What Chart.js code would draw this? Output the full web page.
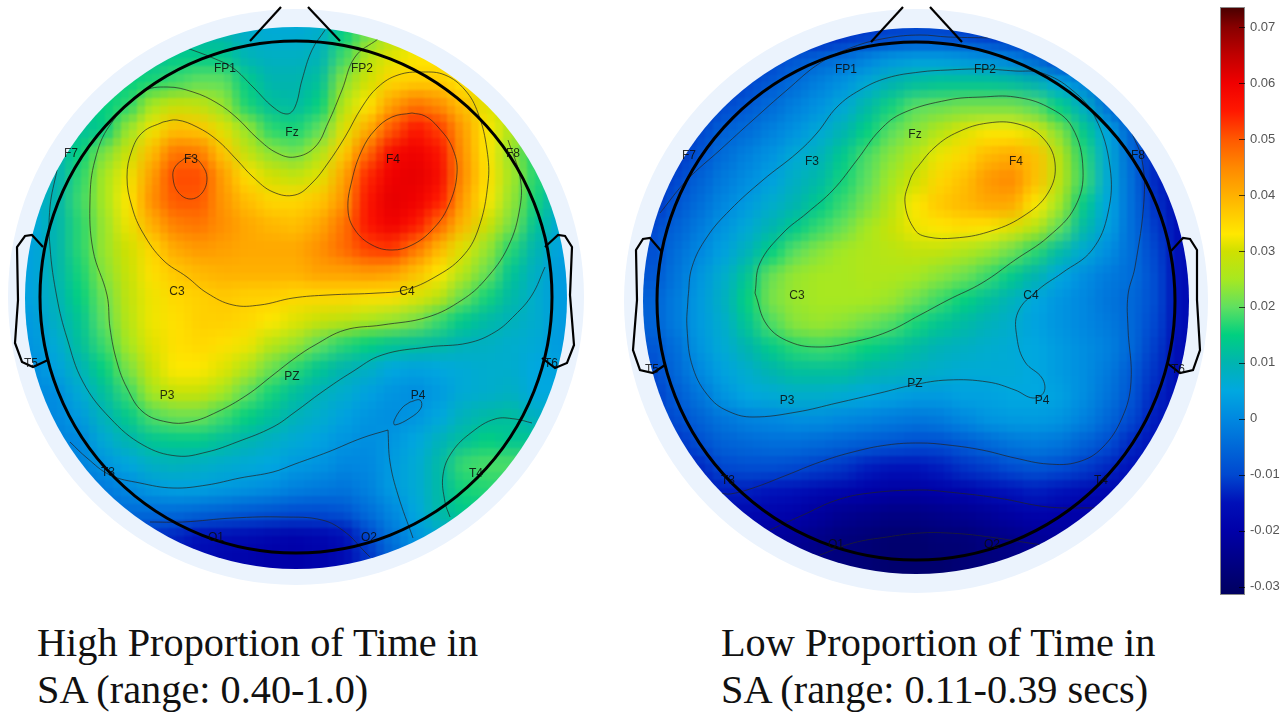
<!DOCTYPE html>
<html>
<head>
<meta charset="utf-8">
<title>SA topography</title>
<script src="https://cdn.jsdelivr.net/npm/chart.js@4"></script>
<style>
  body { margin: 0; background: #fff; width: 1288px; height: 714px; overflow: hidden; position: relative; }
  canvas { position: absolute; }
  #headHigh { left: 1px; top: 2px; }
  #headLow { left: 618px; top: 3px; }
  #colorbar { left: 1220px; top: 0; }
  .caption { position: absolute; font-family: "Liberation Serif", serif; font-size: 40.3px; line-height: 47px; color: #111; white-space: nowrap; }
</style>
</head>
<body>
<canvas id="headHigh" width="590" height="590"></canvas>
<canvas id="headLow" width="596" height="596"></canvas>
<canvas id="colorbar" width="68" height="714"></canvas>
<div class="caption" style="left:37px;top:619px">High Proportion of Time in<br>SA (range: 0.40-1.0)</div>
<div class="caption" style="left:721px;top:619px">Low Proportion of Time in<br>SA (range: 0.11-0.39 secs)</div>
<script>
// colour scale, values in the same units as the colorbar
const stopValues = [-0.0315, -0.03, -0.025, -0.02, -0.015, -0.01, -0.005, 0, 0.005, 0.01, 0.015, 0.02, 0.025, 0.03, 0.033, 0.04, 0.045, 0.05, 0.055, 0.06, 0.065, 0.07, 0.0736];
const stopColors = ['#000060', '#000068', '#000088', '#0000a8', '#0010b8', '#0048d0', '#0068d8', '#0088e0', '#00a8e0', '#00b4b0', '#00d080', '#60e060', '#a8e820', '#d0e000', '#ffe800', '#ffb000', '#ff8800', '#ff5800', '#ff1800', '#f00000', '#c00000', '#880000', '#480000'];
const barTicks = [-0.03, -0.02, -0.01, 0, 0.01, 0.02, 0.03, 0.04, 0.05, 0.06, 0.07];

// cell centres of the heat grid (both heads), values below are in thousandths
const gridX = [-288, -264, -240, -216, -192, -168, -144, -120, -96, -72, -48, -24, 0, 24, 48, 72, 96, 120, 144, 168, 192, 216, 240, 264, 288];
const gridY = [288, 264, 240, 216, 192, 168, 144, 120, 96, 72, 48, 24, 0, -24, -48, -72, -96, -120, -144, -168, -192, -216, -240, -264, -288];

const highValues = [
  [10,10,10,10,10,10,10,10,10,10,7,6,6,7,15,21,26,28,30,30,30,30,30,30,30],
  [10,10,10,10,10,10,10,10,10,10,7,6,6,7,15,21,26,28,30,30,30,30,30,30,30],
  [12,12,12,12,12,12,12,14,14,14,9,8,8,9,18,27,31,33,33,33,33,33,33,33,33],
  [14,14,14,14,14,15,16,18,20,20,14,10,10,12,23,30,35,36,36,33,32,32,32,32,32],
  [13,13,13,14,15,17,25,29,28,24,16,12,11,15,27,33,42,47,44,38,31,28,28,28,28],
  [11,11,11,12,14,24,32,38,37,31,24,17,16,20,31,40,50,56,52,42,33,26,24,24,24],
  [9,9,9,15,22,29,38,47,46,37,28,23,21,26,36,48,58,60,56,43,33,24,16,16,16],
  [8,8,9,17,25,32,42,51,51,42,34,30,28,31,41,54,60,61,58,44,34,25,17,12,12],
  [6,6,10,18,25,33,44,50,50,43,38,35,35,37,43,56,61,60,55,42,33,24,16,8,8],
  [5,5,10,17,24,32,40,46,47,44,41,39,38,41,47,56,60,56,48,39,30,22,13,6,6],
  [4,4,10,17,24,30,35,41,43,42,41,41,41,44,48,52,53,47,39,31,24,17,10,4,4],
  [4,4,10,16,23,29,34,37,39,40,40,40,40,42,42,43,42,38,33,27,21,13,8,3,3],
  [4,4,9,15,21,28,32,35,36,37,36,36,35,35,35,34,34,31,28,21,16,11,7,3,3],
  [3,3,8,13,20,27,32,34,36,36,35,33,31,29,28,26,24,22,18,14,11,9,7,3,3],
  [2,2,6,12,18,25,31,34,35,34,32,27,24,20,17,15,13,12,11,9,8,7,6,3,3],
  [1,1,4,9,15,22,29,33,33,31,26,21,17,13,10,8,5,4,5,6,7,7,5,4,4],
  [0,0,1,6,12,18,25,29,29,25,20,16,12,9,7,4,2,1,3,6,7,8,5,5,5],
  [0,0,0,3,9,14,19,21,21,18,15,12,9,7,4,2,1,2,5,9,11,12,8,8,8],
  [-1,-1,-1,0,6,10,13,14,14,12,10,8,6,4,2,1,2,5,9,12,15,13,13,13,13],
  [-2,-2,-2,-1,2,5,8,9,8,7,6,5,3,2,0,0,3,6,11,18,19,19,19,19,19],
  [-4,-4,-4,-4,-2,0,3,4,4,3,2,1,-1,-2,-3,-1,3,6,11,16,17,17,17,17,17],
  [-6,-6,-6,-6,-5,-4,-4,-4,-5,-6,-7,-8,-9,-9,-8,-4,0,5,11,14,14,14,14,14,14],
  [-12,-12,-12,-12,-12,-12,-12,-13,-15,-16,-17,-18,-19,-18,-16,-10,-3,2,6,8,8,8,8,8,8],
  [-17,-17,-17,-17,-17,-17,-17,-17,-17,-18,-19,-20,-20,-19,-17,-12,-6,0,2,2,2,2,2,2,2],
  [-17,-17,-17,-17,-17,-17,-17,-17,-17,-18,-19,-20,-20,-19,-17,-12,-6,0,2,2,2,2,2,2,2]
];

const lowValues = [
  [-14,-14,-14,-14,-14,-14,-14,-14,-14,-13,-12,-12,-12,-12,-12,-13,-14,-14,-14,-14,-14,-14,-14,-14,-14],
  [-14,-14,-14,-14,-14,-14,-14,-14,-13,-12,-11,-10,-9,-9,-10,-11,-12,-13,-14,-14,-14,-14,-14,-14,-14],
  [-14,-14,-14,-14,-14,-14,-10,-7,-5,-3,0,3,4,4,3,2,0,-4,-10,-13,-14,-14,-14,-14,-14],
  [-14,-14,-14,-14,-13,-10,-7,-4,-1,2,6,10,12,13,13,13,12,10,5,0,-8,-13,-14,-14,-14],
  [-14,-14,-14,-13,-9,-7,-4,-1,2,6,11,16,20,21,22,22,22,20,15,8,-3,-12,-14,-15,-15],
  [-14,-14,-13,-10,-6,-4,-1,2,6,10,15,20,23,27,31,33,33,31,23,14,5,-6,-13,-16,-16],
  [-14,-14,-12,-8,-4,-1,2,6,9,14,19,23,27,32,35,39,41,38,28,17,6,-5,-13,-17,-17],
  [-13,-13,-10,-6,-2,1,4,8,11,16,20,25,30,35,38,43,45,38,28,18,6,-4,-13,-17,-17],
  [-12,-12,-8,-4,0,3,7,10,14,18,22,27,33,37,39,41,41,33,25,14,5,-4,-12,-17,-17],
  [-10,-10,-6,-2,2,6,10,14,18,21,25,29,32,33,34,33,31,27,20,11,4,-4,-11,-16,-17],
  [-9,-9,-4,0,4,9,15,20,23,25,26,27,28,28,26,24,21,17,11,6,1,-4,-10,-16,-17],
  [-8,-8,-3,2,7,13,21,24,25,25,26,26,25,23,21,18,14,10,5,1,-2,-4,-9,-16,-17],
  [-7,-6,-2,3,8,15,22,24,25,25,25,24,21,18,15,12,9,5,2,0,-3,-5,-9,-16,-17],
  [-7,-6,-2,3,7,13,19,23,24,23,21,19,16,13,11,9,7,4,2,0,-2,-5,-10,-16,-17],
  [-8,-8,-4,2,6,10,14,17,18,17,15,13,11,9,8,7,6,5,3,1,-1,-5,-11,-17,-17],
  [-10,-10,-5,0,4,7,10,12,12,12,10,9,8,7,6,6,6,5,3,1,-2,-7,-12,-17,-17],
  [-11,-11,-7,-3,2,5,6,7,7,6,5,4,3,3,4,4,5,5,4,1,-3,-8,-13,-17,-17],
  [-12,-12,-9,-6,-3,-1,0,1,1,0,-1,-2,-3,-2,0,2,3,3,2,-1,-5,-10,-14,-17,-17],
  [-13,-13,-12,-9,-6,-5,-4,-4,-5,-6,-7,-8,-9,-9,-7,-5,-3,-2,-3,-6,-9,-13,-15,-17,-17],
  [-14,-14,-14,-13,-10,-9,-9,-10,-11,-12,-14,-15,-15,-14,-12,-11,-9,-8,-9,-11,-13,-15,-16,-17,-17],
  [-16,-16,-16,-15,-14,-14,-15,-16,-18,-19,-20,-21,-21,-20,-19,-17,-15,-14,-15,-17,-18,-18,-18,-18,-18],
  [-18,-18,-18,-18,-18,-18,-19,-20,-22,-24,-25,-26,-26,-25,-24,-23,-21,-20,-20,-20,-20,-20,-20,-20,-20],
  [-20,-20,-20,-20,-20,-22,-22,-23,-25,-27,-28,-29,-29,-28,-28,-26,-25,-23,-22,-22,-22,-22,-22,-22,-22],
  [-24,-24,-24,-24,-24,-24,-24,-25,-26,-27,-28,-29,-29,-29,-28,-27,-26,-25,-25,-25,-25,-25,-25,-25,-25],
  [-24,-24,-24,-24,-24,-24,-24,-25,-26,-27,-28,-29,-29,-29,-28,-27,-26,-25,-25,-25,-25,-25,-25,-25,-25]
];

// electrodes
const electrodeNames = ['FP1', 'FP2', 'F7', 'F3', 'Fz', 'F4', 'F8', 'T5', 'C3', 'C4', 'T6', 'P3', 'PZ', 'P4', 'T3', 'T4', 'O1', 'O2'];
const highElectrodeX = [-71, 66, -225, -105, -4, 97, 217, -265, -119, 111, 255, -129, -4, 122, -188, 180, -80, 73];
const highElectrodeY = [228, 228, 143, 137, 164, 137, 143, -67, 5, 5, -67, -99, -80, -99, -176, -177, -241, -241];
const lowElectrodeX = [-70, 69, -227, -104, -1, 100, 222, -264, -119, 115, 262, -129, -1, 126, -188, 185, -80, 76];
const lowElectrodeY = [231, 231, 145, 139, 166, 139, 145, -69, 5, 5, -69, -100, -83, -100, -180, -180, -244, -244];

// contour lines
const highContours = [
  [[-109,249],[-83,239],[-63,229],[-43,210],[-23,190],[-9,183],[-1,190],[6,217],[16,247],[29,267]],
  [[212,157],[224,120],[224,90],[212,50],[189,17],[166,-3],[132,-20],[86,-28],[49,-33],[19,-48],[-1,-61],[-23,-78],[-49,-98],[-79,-115],[-106,-125],[-129,-125],[-153,-115],[-169,-91],[-179,-65],[-186,-31],[-189,2],[-203,47],[-206,97],[-201,137],[-186,172],[-153,205],[-129,210],[-103,205],[-79,194],[-59,179],[-39,159],[-19,144],[-1,140],[19,150],[32,174],[46,207],[59,240],[82,258]],
  [[-133,175],[-153,165],[-164,147],[-169,120],[-164,90],[-153,64],[-133,37],[-109,20],[-89,4],[-63,-8],[-36,-8],[-3,-1],[32,2],[82,4],[109,7],[139,20],[166,40],[182,67],[192,114],[191,147],[182,184],[169,207],[149,222],[126,225],[102,222],[82,210],[66,190],[49,160],[32,134],[16,114],[-1,102],[-23,105],[-43,120],[-59,137],[-79,157],[-99,170],[-119,177],[-133,175]],
  [[-111,139],[-121,130],[-123,119],[-118,105],[-106,98],[-94,104],[-89,119],[-94,132],[-103,140],[-111,139]],
  [[116,184],[96,180],[79,167],[66,147],[56,117],[52,87],[59,67],[76,52],[96,47],[116,52],[136,67],[152,90],[161,124],[156,150],[142,170],[129,181],[116,184]],
  [[-239,127],[-246,90],[-246,50],[-239,-1],[-229,-41],[-213,-85],[-186,-121],[-153,-148],[-119,-159],[-89,-155],[-59,-145],[-23,-130],[-1,-115],[26,-95],[56,-75],[86,-58],[132,-50],[172,-46],[199,-35],[219,-18],[236,2],[249,30]],
  [[-226,-145],[-209,-161],[-186,-178],[-156,-186],[-123,-191],[-89,-188],[-56,-181],[-23,-175],[-1,-167],[32,-155],[66,-141],[92,-133]],
  [[92,-133],[94,-165],[102,-198],[117,-241]],
  [[114,-105],[124,-103],[125,-111],[114,-121],[99,-128],[98,-124],[106,-111],[114,-105]],
  [[236,-126],[219,-122],[199,-122],[176,-135],[156,-155],[147,-178],[149,-205],[154,-220]],
  [[-146,-225],[-113,-225],[-63,-221],[-13,-220],[26,-223],[49,-235],[69,-255],[74,-260]]
];
const lowContours = [
  [[-256,88],[-229,121],[-196,151],[-163,181],[-129,211],[-96,238],[-63,254],[-29,263],[4,266],[32,264],[82,263]],
  [[216,168],[226,141],[228,101],[219,34],[212,6],[212,-27],[215,-81],[206,-117],[186,-147],[162,-161],[132,-163],[99,-157],[66,-149],[32,-144],[4,-142],[-29,-144],[-63,-151],[-96,-161],[-129,-174],[-163,-187],[-186,-193],[-196,-192]],
  [[-228,3],[-224,34],[-209,64],[-186,91],[-153,121],[-119,148],[-99,168],[-79,194],[-56,211],[-29,223],[4,229],[32,231],[66,232],[99,230],[126,228],[156,211],[179,184],[194,134],[192,88],[176,51],[146,28],[122,11],[102,-11],[101,-37],[109,-61],[126,-77],[128,-91],[117,-97],[99,-89],[72,-81],[32,-79],[-3,-84],[-36,-92],[-79,-102],[-119,-111],[-163,-116],[-186,-111],[-206,-97],[-223,-67],[-229,-27],[-228,3]],
  [[-161,8],[-156,38],[-133,68],[-109,88],[-83,111],[-59,141],[-36,171],[-13,188],[32,201],[66,204],[99,204],[132,194],[156,174],[167,131],[159,94],[132,64],[99,41],[66,18],[32,1],[4,-14],[-29,-31],[-63,-41],[-96,-46],[-126,-41],[-149,-24],[-161,8]],
  [[-1,131],[19,154],[42,169],[72,178],[102,177],[126,164],[139,138],[132,108],[106,84],[72,69],[39,63],[12,64],[-1,71],[-11,98],[-6,121],[-1,131]],
  [[-146,-229],[-113,-214],[-79,-199],[-46,-192],[4,-189],[32,-191],[82,-197],[132,-206],[179,-207]],
  [[-96,-254],[-63,-242],[-29,-236],[4,-232],[32,-232],[66,-235],[126,-244]]
];

// nose and ears
const highOutline = [
  [[-46,256],[-15,290]],
  [[44,256],[12,290]],
  [[-253,50],[-264,62],[-271,61],[-279,50],[-278,-3],[-281,-46],[-274,-65],[-263,-70],[-248,-63]],
  [[249,50],[262,62],[269,61],[276,50],[274,2],[278,-48],[271,-66],[259,-71],[246,-61]]
];
const lowOutline = [
  [[-45,259],[-13,294]],
  [[46,259],[14,294]],
  [[-254,49],[-266,63],[-273,62],[-280,51],[-279,1],[-283,-49],[-276,-69],[-263,-72],[-251,-64]],
  [[255,50],[267,63],[274,62],[281,51],[281,1],[284,-49],[277,-69],[264,-72],[251,-62]]
];

function hexToRgb(h) {
  return [parseInt(h.slice(1, 3), 16), parseInt(h.slice(3, 5), 16), parseInt(h.slice(5, 7), 16)];
}

function valueColor(v) {
  let i = 0;
  while (i < stopValues.length - 2 && v > stopValues[i + 1]) i++;
  const t = Math.min(1, Math.max(0, (v - stopValues[i]) / (stopValues[i + 1] - stopValues[i])));
  const a = hexToRgb(stopColors[i]);
  const b = hexToRgb(stopColors[i + 1]);
  return 'rgb(' + a.map((c, k) => Math.round(c + (b[k] - c) * t)).join(',') + ')';
}

function newCanvas(w, h) {
  const c = document.createElement('canvas');
  c.width = w;
  c.height = h;
  return c;
}

function discPath(chart, opts) {
  const cx = chart.scales.x.getPixelForValue(0);
  const cy = chart.scales.y.getPixelForValue(0);
  chart.ctx.beginPath();
  chart.ctx.arc(cx, cy + opts.discShift, opts.disc, 0, Math.PI * 2);
}

// the cells are coarser than the original, so soften them and re-block at the picture's 8px
const heatPlugin = {
  id: 'heat',
  beforeDatasetDraw(chart, args, opts) {
    if (chart.data.datasets[args.index].label !== 'contour') return;
    chart.ctx.save();
    discPath(chart, opts);
    chart.ctx.clip();
  },
  afterDatasetDraw(chart, args, opts) {
    const label = chart.data.datasets[args.index].label;
    if (label === 'contour') chart.ctx.restore();
    if (label !== 'heat') return;
    const { ctx, canvas, scales } = chart;
    const w = canvas.width, h = canvas.height;
    const soft = newCanvas(w, h);
    const softCtx = soft.getContext('2d');
    softCtx.filter = 'blur(8px)';
    softCtx.drawImage(canvas, 0, 0);
    const small = newCanvas(Math.round(w / 8), Math.round(h / 8));
    small.getContext('2d').drawImage(soft, 0, 0, small.width, small.height);

    ctx.save();
    ctx.clearRect(0, 0, w, h);
    ctx.fillStyle = '#ebf3fd';
    ctx.beginPath();
    ctx.arc(scales.x.getPixelForValue(0), scales.y.getPixelForValue(0), opts.ring, 0, Math.PI * 2);
    ctx.fill();
    discPath(chart, opts);
    ctx.clip();
    ctx.imageSmoothingEnabled = false;
    ctx.filter = 'blur(0.8px)';
    ctx.drawImage(small, 0, 0, w, h);
    ctx.restore();
  },
  afterDatasetsDraw(chart, args, opts) {
    const { ctx, scales } = chart;
    ctx.save();
    ctx.strokeStyle = '#000';
    ctx.lineWidth = 3;
    ctx.beginPath();
    ctx.arc(scales.x.getPixelForValue(0), scales.y.getPixelForValue(0), opts.head, 0, Math.PI * 2);
    ctx.stroke();
    // electrode names on top of the outline
    ctx.font = '12px "Liberation Sans", Arial, sans-serif';
    ctx.fillStyle = 'rgba(10,10,10,0.85)';
    ctx.textAlign = 'center';
    ctx.textBaseline = 'middle';
    const names = chart.data.datasets.find(d => d.label === 'electrodes');
    names.data.forEach(p => {
      ctx.fillText(p.name, scales.x.getPixelForValue(p.x), scales.y.getPixelForValue(p.y));
    });
    ctx.restore();
  }
};

function lineSet(label, points, color, width, tension) {
  return {
    type: 'scatter',
    label: label,
    data: points.map(p => ({ x: p[0], y: p[1] })),
    showLine: true,
    borderColor: color,
    borderWidth: width,
    tension: tension,
    pointRadius: 0,
    clip: false
  };
}

function makeHead(id, values, contours, outline, ex, ey, range, head, disc, ring, discShift) {
  const cells = [];
  const cellColors = [];
  gridY.forEach((y, r) => {
    gridX.forEach((x, c) => {
      cells.push({ x: x, y: y });
      cellColors.push(valueColor(values[r][c] / 1000));
    });
  });
  const datasets = [];
  outline.forEach(p => datasets.push(lineSet('outline', p, '#000', 2.2, 0)));
  contours.forEach(p => datasets.push(lineSet('contour', p, 'rgba(35,35,35,0.7)', 1, 0.4)));
  datasets.push({
    label: 'electrodes',
    data: electrodeNames.map((n, i) => ({ x: ex[i], y: ey[i], name: n })),
    pointRadius: 0
  });
  // chart.js paints the last dataset first, so the cells go last
  datasets.push({
    label: 'heat',
    data: cells,
    pointStyle: 'rect',
    pointRadius: 18,
    pointBorderWidth: 0,
    pointBackgroundColor: cellColors
  });
  return new Chart(document.getElementById(id), {
    type: 'scatter',
    data: { datasets: datasets },
    plugins: [heatPlugin],
    options: {
      responsive: false,
      animation: false,
      events: [],
      layout: { padding: 0, autoPadding: false },
      scales: {
        x: { type: 'linear', display: false, min: -range, max: range },
        y: { type: 'linear', display: false, min: -range, max: range }
      },
      plugins: {
        legend: { display: false },
        tooltip: { enabled: false },
        heat: { head: head, disc: disc, ring: ring, discShift: discShift }
      }
    }
  });
}

makeHead('headHigh', highValues, highContours, highOutline, highElectrodeX, highElectrodeY, 295, 256, 271, 288, 1);
makeHead('headLow', lowValues, lowContours, lowOutline, lowElectrodeX, lowElectrodeY, 298, 259, 273, 292, 0);

const barMin = stopValues[0];
const barMax = stopValues[stopValues.length - 1];

const colorbarFrame = {
  id: 'colorbarFrame',
  afterDatasetsDraw(chart) {
    const { ctx, chartArea, scales } = chart;
    ctx.save();
    ctx.strokeStyle = '#8a8a8a';
    ctx.lineWidth = 1;
    ctx.strokeRect(chartArea.left + 0.5, chartArea.top + 0.5, chartArea.width - 1, chartArea.height - 1);
    ctx.strokeStyle = 'rgba(0,0,0,0.7)';
    barTicks.forEach(v => {
      const y = Math.round(scales.y.getPixelForValue(v)) + 0.5;
      ctx.beginPath();
      ctx.moveTo(chartArea.right - 6, y);
      ctx.lineTo(chartArea.right, y);
      ctx.stroke();
    });
    ctx.restore();
  }
};

new Chart(document.getElementById('colorbar'), {
  type: 'bar',
  data: {
    labels: ['scale'],
    datasets: [{
      data: [[barMin, barMax]],
      barPercentage: 1,
      categoryPercentage: 1,
      borderWidth: 0,
      backgroundColor(c) {
        const area = c.chart.chartArea;
        if (!area) return '#000';
        const g = c.chart.ctx.createLinearGradient(0, area.bottom, 0, area.top);
        stopValues.forEach((v, i) => g.addColorStop((v - barMin) / (barMax - barMin), stopColors[i]));
        return g;
      }
    }]
  },
  plugins: [colorbarFrame],
  options: {
    responsive: false,
    animation: false,
    events: [],
    layout: { padding: { top: 7, bottom: 119, left: 0, right: 0 }, autoPadding: false },
    scales: {
      x: { display: false },
      y: {
        position: 'right',
        min: barMin,
        max: barMax,
        afterFit(s) { s.width = 43; s.paddingTop = 0; s.paddingBottom = 0; },
        afterBuildTicks(s) { s.ticks = barTicks.map(v => ({ value: v })); },
        grid: { display: false, drawTicks: false },
        border: { display: false },
        ticks: {
          padding: 5,
          color: '#555',
          font: { family: '"Liberation Sans", Arial, sans-serif', size: 13 },
          callback: v => String(v)
        }
      }
    },
    plugins: { legend: { display: false }, tooltip: { enabled: false } }
  }
});
</script>
</body>
</html>
